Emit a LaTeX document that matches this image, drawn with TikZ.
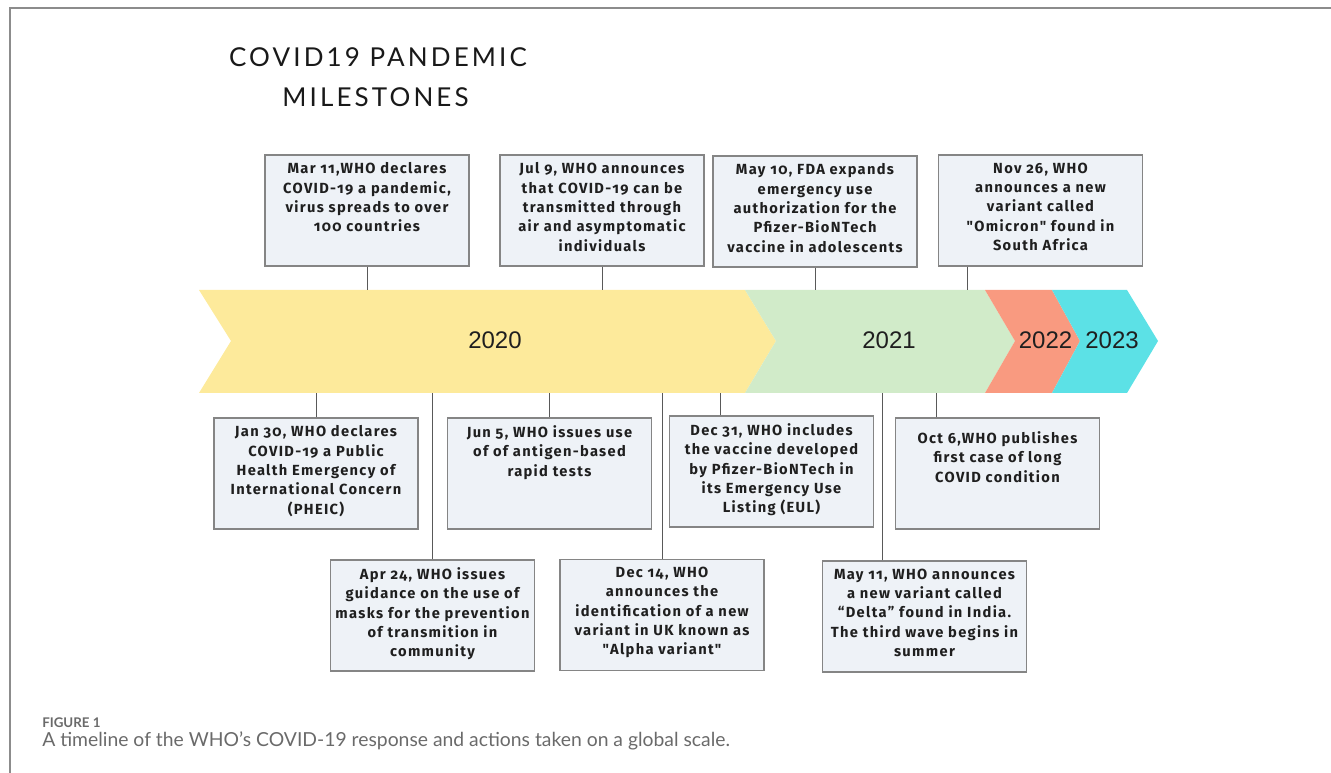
\documentclass[tikz,border=0pt]{standalone}
\usepackage{fontspec}
\setmainfont{Lato}
\newfontfamily\boxfont{Fira Sans}[Numbers=OldStyle,LetterSpace=9]
\newfontfamily\titlefont{Lato}[LetterSpace=12]
\newfontfamily\yearfont{Liberation Sans}
\definecolor{yel}{HTML}{FDEA9B}
\definecolor{grn}{HTML}{D1EBC9}
\definecolor{org}{HTML}{F99A80}
\definecolor{cya}{HTML}{5CE1E6}
\definecolor{boxfill}{HTML}{EEF2F7}
\definecolor{boxline}{HTML}{858585}
\definecolor{frame}{HTML}{8C8C8C}
\definecolor{captxt}{HTML}{6A6A6A}
\tikzset{
  ev/.style={draw=boxline, fill=boxfill, line width=0.9pt, minimum width=153pt, minimum height=83.25pt, inner sep=0pt},
  evtext/.style={anchor=north, inner sep=0pt, align=center, font=\boxfont\bfseries\fontsize{11}{14.5}\selectfont, text=black!88},
  conn/.style={draw=black!65, line width=0.75pt},
  year/.style={inner sep=0pt, font=\yearfont\fontsize{18}{20}\selectfont, text=black!88},
  ttl/.style={inner sep=0pt, font=\titlefont\fontsize{19.5}{22}\selectfont, text=black!90}
}
\begin{document}
\begin{tikzpicture}[x=0.75pt,y=-0.75pt]
\useasboundingbox (0,0) rectangle (1331,773);
% frame
\draw[frame, line width=1.5pt] (10,773) -- (10,8) -- (1331,8);
% title
\node[ttl] (title1) at (378,57.5) {COVID19 PANDEMIC};
\node[ttl] (title2) at (375.5,97.5) {MILESTONES};
% ribbon
\fill[yel] (199,290) -- (745,290) -- (776,341) -- (745,393) -- (199,393) -- (231,341) -- cycle;
\fill[grn] (745,290) -- (985,290) -- (1015,341) -- (985,393) -- (745,393) -- (776,341) -- cycle;
\fill[org] (985,290) -- (1052,290) -- (1080,341) -- (1052,393) -- (985,393) -- (1015,341) -- cycle;
\fill[cya] (1052,290) -- (1127,290) -- (1158,341) -- (1127,393) -- (1052,393) -- (1080,341) -- cycle;
\coordinate (ribtop) at (0,290);
\coordinate (ribbot) at (0,393);
\node[year] (y2020) at (495,340) {2020};
\node[year] (y2021) at (889,340) {2021};
\node[year] (y2022) at (1045.5,340) {2022};
\node[year] (y2023) at (1112,340) {2023};
% top row
\node[ev] (mar) at (367,210.5) {};
\node[evtext] (tmar) at ([yshift=-6pt]mar.north) {Mar 11,WHO declares\\COVID-19 a pandemic,\\virus spreads to over\\100 countries};
\node[ev] (jul) at (602,210.5) {};
\node[evtext] (tjul) at ([yshift=-6pt]jul.north) {Jul 9, WHO announces\\that COVID-19 can be\\transmitted through\\air and asymptomatic\\individuals};
\node[ev] (may10) at (815,211.5) {};
\node[evtext] (tmay10) at ([yshift=-6pt]may10.north) {May 10, FDA expands\\emergency use\\authorization for the\\Pfizer-BioNTech\\vaccine in adolescents};
\node[ev] (nov) at (1040.5,210.5) {};
\node[evtext] (tnov) at ([yshift=-6pt]nov.north) {Nov 26, WHO\\announces a new\\variant called\\"Omicron" found in\\South Africa};
% bottom row 1
\node[ev] (jan) at (316,473.5) {};
\node[evtext] (tjan) at ([yshift=-6pt]jan.north) {Jan 30, WHO declares\\COVID-19 a Public\\Health Emergency of\\International Concern\\(PHEIC)};
\node[ev] (jun) at (549.5,473.5) {};
\node[evtext] (tjun) at ([yshift=-6pt]jun.north) {Jun 5, WHO issues use\\of of antigen-based\\rapid tests};
\node[ev] (dec31) at (771.5,471.5) {};
\node[evtext] (tdec31) at ([yshift=-6pt]dec31.north) {Dec 31, WHO includes\\the vaccine developed\\by Pfizer-BioNTech in\\its Emergency Use\\Listing (EUL)};
\node[ev] (oct) at (997.5,473.5) {};
\node[evtext] (toct) at ([yshift=-10.5pt]oct.north) {Oct 6,WHO publishes\\first case of long\\COVID condition};
% bottom row 2
\node[ev] (apr) at (432.5,615.5) {};
\node[evtext] (tapr) at ([yshift=-6pt]apr.north) {Apr 24, WHO issues\\guidance on the use of\\masks for the prevention\\of transmition in\\community};
\node[ev] (dec14) at (662,615) {};
\node[evtext] (tdec14) at ([yshift=-6pt]dec14.north) {Dec 14, WHO\\announces the\\identification of a new\\variant in UK known as\\"Alpha variant"};
\node[ev] (may11) at (924.5,616.5) {};
\node[evtext] (tmay11) at ([yshift=-6pt]may11.north) {May 11, WHO announces\\a new variant called\\“Delta” found in India.\\The third wave begins in\\summer};
% connectors
\coordinate (cnov) at (967,0);
\coordinate (cdec31) at (720,0);
\coordinate (coct) at (936,0);
\coordinate (cmay11) at (882,0);
\draw[conn] (mar.south) -- (mar.south |- ribtop);
\draw[conn] (jul.south) -- (jul.south |- ribtop);
\draw[conn] (may10.south) -- (may10.south |- ribtop);
\draw[conn] (cnov |- nov.south) -- (cnov |- ribtop);
\draw[conn] (jan.north) -- (jan.north |- ribbot);
\draw[conn] (jun.north) -- (jun.north |- ribbot);
\draw[conn] (cdec31 |- dec31.north) -- (cdec31 |- ribbot);
\draw[conn] (coct |- oct.north) -- (coct |- ribbot);
\draw[conn] (apr.north) -- (apr.north |- ribbot);
\draw[conn] (dec14.north) -- (dec14.north |- ribbot);
\draw[conn] (cmay11 |- may11.north) -- (cmay11 |- ribbot);
% caption
\node[anchor=base west, inner sep=0pt, text=captxt, font=\bfseries\fontsize{10}{12}\selectfont] (fig) at (42,727) {FIGURE 1};
\node[anchor=base west, inner sep=0pt, text=captxt, font=\fontsize{14.5}{17}\selectfont] (cap) at (42,746) {A timeline of the WHO’s COVID-19 response and actions taken on a global scale.};
\end{tikzpicture}
\end{document}
